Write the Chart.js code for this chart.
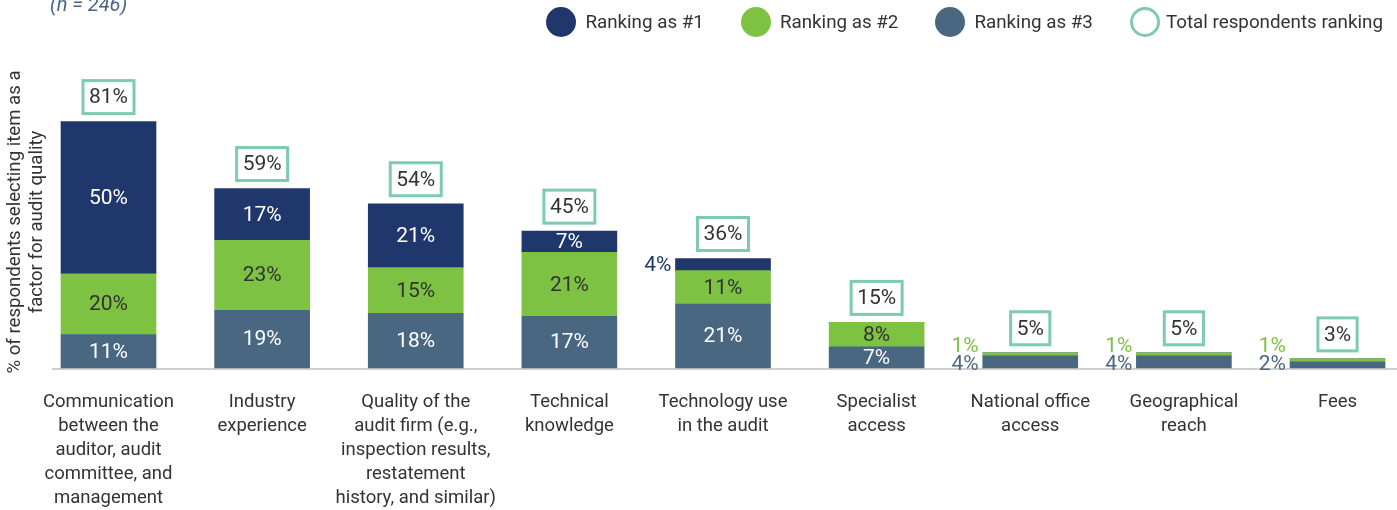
<!DOCTYPE html>
<html>
<head>
<meta charset="utf-8">
<script src="https://cdn.jsdelivr.net/npm/chart.js@4.4.1/dist/chart.umd.min.js"></script>
<style>
  body { margin: 0; background: #fff; font-family: Roboto, sans-serif; }
  #wrap { position: relative; width: 1397px; height: 510px; overflow: hidden; }
  #sub { position: absolute; left: 50px; top: -8px; font-size: 20px; font-style: italic; color: #4a6386; }
  #legend { position: absolute; top: 7px; right: 14px; display: flex; align-items: center; font-size: 18.8px; color: #333; }
  .item { display: flex; align-items: center; margin-left: 37px; }
  .dot { width: 30px; height: 30px; border-radius: 50%; margin-right: 9px; box-sizing: border-box; }
</style>
</head>
<body>
<div id="wrap">
  <canvas id="chart"></canvas>
  <div id="sub">(n = 246)</div>
  <div id="legend"></div>
</div>
<script>
// categories (x tick labels, one array per line-wrapped label)
const categories = [
  ["Communication", "between the", "auditor, audit", "committee, and", "management"],
  ["Industry", "experience"],
  ["Quality of the", "audit firm (e.g.,", "inspection results,", "restatement", "history, and similar)"],
  ["Technical", "knowledge"],
  ["Technology use", "in the audit"],
  ["Specialist", "access"],
  ["National office", "access"],
  ["Geographical", "reach"],
  ["Fees"]
];
const rank1 = [50, 17, 21, 7, 4, 0, 0, 0, 0];
const rank2 = [20, 23, 15, 21, 11, 8, 1, 1, 1];
const rank3 = [11, 19, 18, 17, 21, 7, 4, 4, 2];
const totals = [81, 59, 54, 45, 36, 15, 5, 5, 3];

const NAVY = "#1f376b", GREEN = "#7dc242", SLATE = "#4a6781", TEAL = "#7ecbb1", TXT = "#333333";

// html legend
const legendItems = [
  { label: "Ranking as #1", fill: NAVY },
  { label: "Ranking as #2", fill: GREEN },
  { label: "Ranking as #3", fill: SLATE },
  { label: "Total respondents ranking", ring: TEAL }
];
const leg = document.getElementById("legend");
legendItems.forEach((it, i) => {
  const d = document.createElement("div");
  d.className = "item";
  if (i === 0) d.style.marginLeft = "0";
  const dot = document.createElement("span");
  dot.className = "dot";
  if (it.fill) dot.style.background = it.fill;
  else { dot.style.border = "3px solid " + it.ring; dot.style.marginRight = "6px"; }
  d.appendChild(dot);
  d.appendChild(document.createTextNode(it.label));
  leg.appendChild(d);
});

const labelPlugin = {
  id: "segLabels",
  beforeDatasetsDraw(chart) {
    const ctx = chart.ctx;
    const y0 = chart.scales.y.getPixelForValue(0);
    ctx.save();
    ctx.strokeStyle = "#cfcfcf";
    ctx.lineWidth = 2;
    ctx.beginPath();
    ctx.moveTo(52, y0 + 1);
    ctx.lineTo(chart.width, y0 + 1);
    ctx.stroke();
    ctx.restore();
  },
  afterDatasetsDraw(chart) {
    const ctx = chart.ctx;
    const y0 = chart.scales.y.getPixelForValue(0);
    ctx.save();
    ctx.font = "21px Roboto";
    ctx.textBaseline = "middle";
    const inColors = ["#ffffff", TXT, "#ffffff"];
    const segColors = [SLATE, GREEN, NAVY];
    categories.forEach((c, i) => {
      let prevOut = null;
      for (let d = 0; d < 3; d++) {
        const v = chart.data.datasets[d].data[i];
        if (!v) continue;
        const bar = chart.getDatasetMeta(d).data[i];
        const cy = (bar.y + bar.base) / 2;
        if (v >= 7) {
          ctx.textAlign = "center";
          ctx.fillStyle = inColors[d];
          ctx.fillText(v + "%", bar.x, cy + 1);
        } else {
          let y = cy;
          // small labels hugging the baseline sit just above it
          if (prevOut === null && cy > y0 - 15) y = y0 - 4;
          if (prevOut !== null) y = Math.min(y, prevOut - 18);
          prevOut = y;
          ctx.textAlign = "right";
          ctx.fillStyle = segColors[d];
          ctx.fillText(v + "%", bar.x - bar.width / 2 - 4, y + 1);
        }
      }
      // total box
      const pt = chart.getDatasetMeta(3).data[i];
      const txt = totals[i] + "%";
      const w = ctx.measureText(txt).width + 12;
      const h = 33;
      const by = pt.y - 8 - h;
      ctx.fillStyle = "#ffffff";
      ctx.fillRect(pt.x - w / 2, by, w, h);
      ctx.strokeStyle = TEAL;
      ctx.lineWidth = 3;
      ctx.strokeRect(pt.x - w / 2, by, w, h);
      ctx.textAlign = "center";
      ctx.fillStyle = TXT;
      ctx.fillText(txt, pt.x, by + h / 2 + 1);
    });
    ctx.restore();
  }
};

new Chart(document.getElementById("chart"), {
  type: "bar",
  data: {
    labels: categories,
    datasets: [
      { label: "Ranking as #3", data: rank3, backgroundColor: SLATE, stack: "s", clip: false },
      { label: "Ranking as #2", data: rank2, backgroundColor: GREEN, stack: "s", clip: false },
      { label: "Ranking as #1", data: rank1, backgroundColor: NAVY, stack: "s", clip: false },
      { label: "Total respondents ranking", type: "line", data: totals, stack: "total",
        showLine: false, pointRadius: 0, pointHoverRadius: 0, clip: false }
    ]
  },
  options: {
    responsive: true,
    maintainAspectRatio: false,
    animation: false,
    barThickness: 95,
    layout: { padding: { top: 76, right: 59.5, left: 0, bottom: 0 } },
    plugins: { legend: { display: false }, tooltip: { enabled: false } },
    scales: {
      x: {
        stacked: true,
        offset: false,
        grid: { display: false, drawTicks: false, offset: false },
        border: { display: false },
        ticks: { color: TXT, font: { family: "Roboto", size: 18.5, lineHeight: 1.3 }, padding: 22, maxRotation: 0, autoSkip: false },
        afterFit(s) { s.height = 142; }
      },
      y: {
        stacked: true,
        min: 0,
        max: 96,
        grid: { display: false, drawTicks: false },
        border: { display: false },
        ticks: { display: false },
        title: {
          display: true,
          text: ["% of respondents selecting item as a", "factor for audit quality"],
          color: TXT,
          font: { family: "Roboto", size: 18.6, lineHeight: 1.18 },
          padding: { top: 4, bottom: 0 }
        },
        afterFit(s) { s.width = 108.5; }
      }
    }
  },
  plugins: [labelPlugin]
});
</script>
</body>
</html>
